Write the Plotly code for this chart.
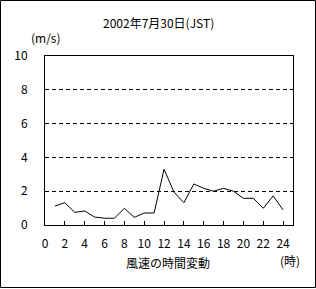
import plotly.graph_objects as go

hours = list(range(1, 25))
wind_speed = [1.12, 1.32, 0.75, 0.83, 0.47, 0.40, 0.40, 0.99, 0.45, 0.71, 0.71, 3.30,
              1.95, 1.32, 2.43, 2.17, 2.00, 2.17, 2.00, 1.58, 1.58, 0.99, 1.72, 0.89]
x_ticks = list(range(0, 25, 2))
y_ticks = list(range(0, 11, 2))

W, H = 316, 289
L, R, T, B = 45, 293, 56, 225
pw, ph = R - L, B - T

def px(p):
    return (p - L) / pw

def py(p):
    return (B - p) / ph

FONT = "Noto Sans CJK JP"

fig = go.Figure()
fig.add_trace(go.Scatter(x=hours, y=wind_speed, mode="lines",
                         line=dict(color="black", width=1), showlegend=False))

fig.update_layout(
    width=W, height=H,
    margin=dict(l=L, r=W - R, t=T, b=H - B, pad=0),
    paper_bgcolor="white", plot_bgcolor="white",
    font=dict(family=FONT, size=12, color="black"),
    xaxis=dict(range=[0, 25], tickvals=x_ticks, ticktext=[str(v) for v in x_ticks],
               ticks="inside", ticklen=4, tickcolor="black", tickwidth=1,
               showline=True, linecolor="black", linewidth=1, mirror=True,
               showgrid=False, zeroline=False, ticklabelstandoff=8,
               tickfont=dict(family=FONT, size=12)),
    yaxis=dict(range=[0, 10], tickvals=y_ticks, ticktext=[str(v) for v in y_ticks],
               ticks="", showline=True, linecolor="black", linewidth=1, mirror=True,
               showgrid=True, gridcolor="black", gridwidth=1, griddash="4px,3px",
               zeroline=False, ticklabelstandoff=14,
               tickfont=dict(family=FONT, size=12)),
)

annos = [
    ("2002年7月30日(JST)", 158, 22),
    ("(m/s)", 46, 37),
    ("風速の時間変動", 168, 262),
    ("(時)", 290, 260),
]
for text, x, y in annos:
    fig.add_annotation(text=text, x=px(x), y=py(y), xref="paper", yref="paper",
                       xanchor="center", yanchor="middle", showarrow=False,
                       font=dict(family=FONT, size=12, color="black"))

fig.add_shape(type="rect", xref="paper", yref="paper",
              x0=px(0.5), x1=px(315.5), y0=py(287.5), y1=py(0.5),
              line=dict(color="black", width=1), layer="above")

fig.write_html("out.html")
